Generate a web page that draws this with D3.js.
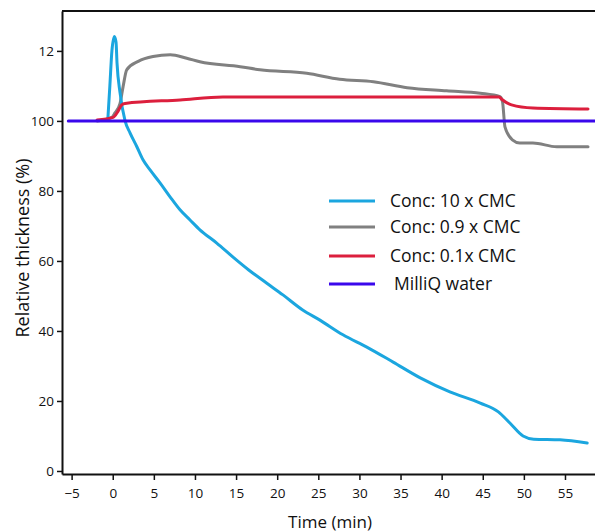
<!DOCTYPE html>
<html>
<head>
<meta charset="utf-8">
<script src="https://cdn.jsdelivr.net/npm/d3@7"></script>
<style>
  body { margin: 0; background: #fff; }
  svg text { font-family: "Open Sans", "Noto Sans", sans-serif; fill: #111; }
</style>
</head>
<body>
<div class="chart-wrapper"></div>
<script>
// values: time (min) vs relative thickness (%)
const blueT = [-0.6, -0.35, -0.1, 0.2, 0.4, 0.52, 0.89, 1.5, 2.1, 2.92, 3.68, 4.54, 5.75, 6.97, 8.18, 9.4, 10.6, 12.65, 14.63, 16.5, 18.7, 20.7, 23.1, 25.2, 28.0, 30.9, 34.1, 37.4, 41.0, 44.7, 46.9, 48.3, 49.9, 51.2, 54.4, 57.7]
const blueV = [100.3, 110, 120, 124.1, 122.5, 116.6, 108, 100, 96.6, 92.7, 88.9, 86, 82.3, 78.3, 74.6, 71.7, 68.9, 65.1, 61.1, 57.5, 53.7, 50.3, 46, 43.1, 38.9, 35.4, 31.1, 26.6, 22.6, 19.4, 16.9, 13.7, 10, 9.1, 8.9, 8]

const greyT = [-1.9, -0.1, 0.28, 0.89, 1.26, 1.7, 3.1, 4.9, 7.0, 9.0, 10.6, 15.5, 17.9, 23.6, 27.6, 31.7, 35.8, 40.6, 44.7, 47.1, 47.4, 47.7, 48.6, 49.5, 51.1, 54, 57.8]
const greyV = [100, 101, 102.3, 105, 109.8, 114.6, 117, 118.4, 118.9, 117.9, 116.9, 115.5, 114.6, 113.6, 111.9, 111.2, 109.5, 108.6, 107.9, 106.9, 105.5, 98.3, 94.6, 93.7, 93.7, 92.6, 92.6]

const redT = [-1.9, 0.04, 0.6, 1.1, 1.5, 8.2, 13.4, 47.0, 47.3, 48.5, 51.1, 57.8]
const redV = [100.3, 101, 102.6, 104.6, 105, 106, 106.8, 106.8, 106.2, 104.6, 103.7, 103.4]

const waterT = [-5.4, 58.7]
const waterV = [100, 100]

const seriesNames = ['Conc: 10 x CMC', 'Conc: 0.9 x CMC', 'Conc: 0.1x CMC', 'MilliQ water']
const seriesColors = ['#1ba6df', '#808080', '#dc1f3d', '#3a08ec']

const xTicks = [-5, 0, 5, 10, 15, 20, 25, 30, 35, 40, 45, 50, 55]
const yTicks = [0, 20, 40, 60, 80, 100, 120]
const yTickLabels = ['0', '20', '40', '60', '80', '100', '12']

const width = 595, height = 532;

const svg = d3.select('.chart-wrapper').append('svg')
  .attr('width', width)
  .attr('height', height);

let xScale = d3.scaleLinear()
  .domain([-6.17, 58.65])
  .range([62, 595])

let yScale = d3.scaleLinear()
  .domain([-0.86, 131.4])
  .range([474, 11])

let line = d3.line()
  .x(d => xScale(d[0]))
  .y(d => yScale(d[1]))
  .curve(d3.curveMonotoneX)

const zip = (t, v) => t.map((d, i) => [d, v[i]])

const series = [
  { name: seriesNames[1], color: seriesColors[1], pts: zip(greyT, greyV) },
  { name: seriesNames[0], color: seriesColors[0], pts: zip(blueT, blueV) },
  { name: seriesNames[2], color: seriesColors[2], pts: zip(redT, redV) },
  { name: seriesNames[3], color: seriesColors[3], pts: zip(waterT, waterV) }
]

// top frame line
svg.append('path')
  .attr('d', d3.line()([[xScale.range()[0], yScale.range()[1]], [xScale.range()[1], yScale.range()[1]]]))
  .attr('stroke', '#111')
  .attr('stroke-width', 2)
  .attr('fill', 'none')

series.forEach(s => {
  svg.append('path')
    .datum(s.pts)
    .attr('d', line)
    .attr('stroke', s.color)
    .attr('stroke-width', 3)
    .attr('stroke-linejoin', 'round')
    .attr('stroke-linecap', 'round')
    .attr('fill', 'none')
})

const xAxis = svg.append('g')
  .attr('transform', 'translate(0,' + yScale.range()[0] + ')')
  .call(d3.axisBottom(xScale)
    .tickValues(xTicks)
    .tickSize(6)
    .tickSizeOuter(0)
    .tickPadding(8)
  )

const yAxis = svg.append('g')
  .attr('transform', 'translate(' + xScale.range()[0] + ',0)')
  .call(d3.axisLeft(yScale)
    .tickValues(yTicks)
    .tickFormat((d, i) => yTickLabels[i])
    .tickSize(5)
    .tickSizeOuter(0)
    .tickPadding(3)
  )

svg.selectAll('.domain')
  .attr('stroke', '#111')
  .attr('stroke-width', 2)

svg.selectAll('.tick line')
  .attr('stroke', '#111')
  .attr('stroke-width', 1.5)

svg.selectAll('.tick text')
  .attr('font-size', 13.5)
  .attr('font-family', '"Open Sans", sans-serif')
  .attr('fill', '#111')

// axis titles
svg.append('text')
  .attr('x', 330)
  .attr('y', 528)
  .attr('text-anchor', 'middle')
  .attr('font-size', 17)
  .text('Time (min)')

svg.append('text')
  .attr('transform', 'translate(29,248) rotate(-90)')
  .attr('text-anchor', 'middle')
  .attr('font-size', 18)
  .text('Relative thickness (%)')

// legend
const legendY = [201, 227, 256, 284]
const legend = svg.append('g')

seriesNames.forEach((n, i) => {
  legend.append('path')
    .attr('d', d3.line()([[329, legendY[i]], [375, legendY[i]]]))
    .attr('stroke', seriesColors[i])
    .attr('stroke-width', 3)
  legend.append('text')
    .attr('x', i == 3 ? 394 : 390)
    .attr('y', legendY[i] + 6)
    .attr('font-size', 17.5)
    .text(n)
})
</script>
</body>
</html>
